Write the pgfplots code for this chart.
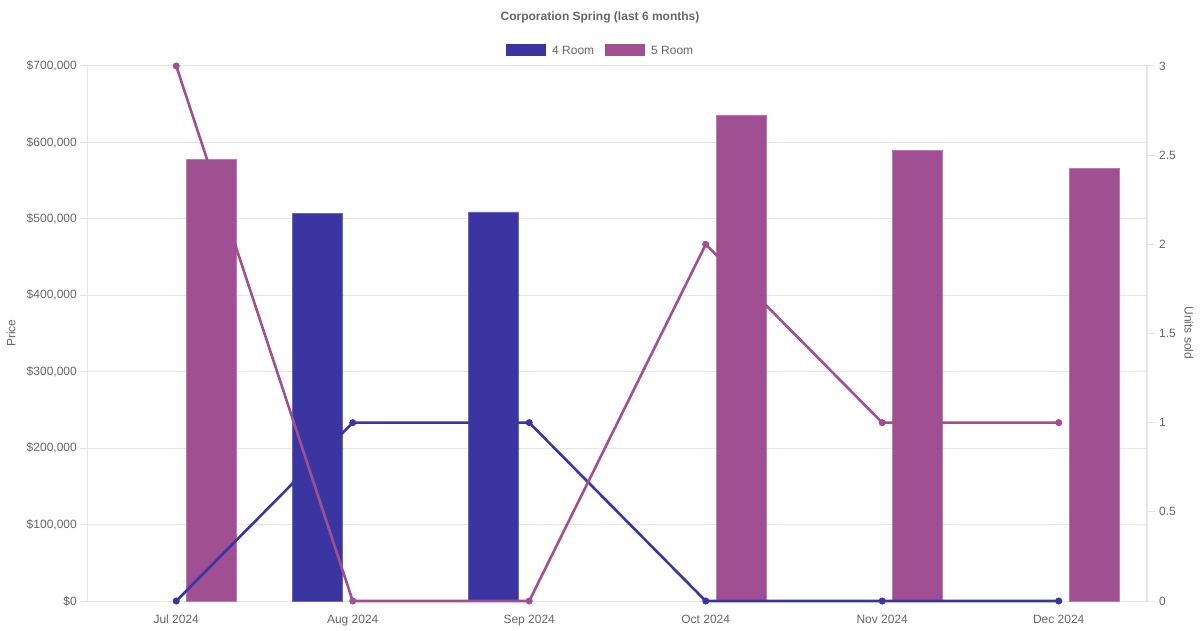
\documentclass[border=0pt]{standalone}
\usepackage{fontspec}
\setmainfont{Liberation Sans}
\usepackage{pgfplots}
\pgfplotsset{compat=1.18}
\definecolor{roomA}{HTML}{3A35A0}
\definecolor{roomB}{HTML}{A05092}
\definecolor{gridc}{HTML}{E6E6E6}
\definecolor{txt}{HTML}{666666}
\definecolor{axc}{HTML}{D0D0D0}
\begin{document}
\fontsize{12}{14}\selectfont
\begin{tikzpicture}
\path[use as bounding box] (-88pt,-29pt) rectangle (1112pt,601pt);
\begin{axis}[
  at={(0pt,0pt)}, anchor=south west,
  scale only axis, width=1059pt, height=535pt,
  xmin=-0.5, xmax=5.5, ymin=0, ymax=700000,
  scaled y ticks=false,
  xtick={0,1,2,3,4,5},
  xticklabels={Jul 2024,Aug 2024,Sep 2024,Oct 2024,Nov 2024,Dec 2024},
  ytick={0,100000,200000,300000,400000,500000,600000,700000},
  yticklabels={{\$0},{\$100,000},{\$200,000},{\$300,000},{\$400,000},{\$500,000},{\$600,000},{\$700,000}},
  ymajorgrids, grid style={draw=gridc, line width=1pt},
  axis line style={draw=gridc, line width=1pt},
  tick align=outside, major tick length=8pt,
  major x tick style={draw=none},
  ytick style={draw=gridc, line width=1pt},
  tick label style={text=txt, font=\fontsize{12}{14}\selectfont},
  yticklabel style={anchor=east, xshift=1pt},
  xticklabel style={anchor=north, yshift=-2pt},
  ytick pos=left, xtick pos=bottom,
]
\addplot[ybar, bar width=50pt, bar shift=-35.5pt, fill=roomA, draw=roomA!75!white, line width=0.8pt]
  coordinates {(1,507000) (2,509000)};
\addplot[ybar, bar width=50pt, bar shift=35.5pt, fill=roomB, draw=roomB!75!white, line width=0.8pt]
  coordinates {(0,578000) (3,636000) (4,589000) (5,566000)};
\end{axis}
\begin{axis}[
  at={(0pt,0pt)}, anchor=south west,
  scale only axis, width=1059pt, height=535pt,
  xmin=-0.5, xmax=5.5, ymin=0, ymax=3,
  axis x line=none,
  axis y line*=right,
  axis line style={draw=gridc, line width=1pt, -},
  ytick={0,0.5,1,1.5,2,2.5,3},
  yticklabels={0,0.5,1,1.5,2,2.5,3},
  tick align=outside, major tick length=8pt,
  ytick style={draw=gridc, line width=1pt},
  tick label style={text=txt, font=\fontsize{12}{14}\selectfont},
  yticklabel style={anchor=west, xshift=0pt},
  clip=false,
]
\addplot[roomA, line width=2.6pt, mark=*, mark size=3pt, mark options={solid, fill=roomA, draw=roomA, line width=1pt}]
  coordinates {(0,0) (1,1) (2,1) (3,0) (4,0) (5,0)};
\addplot[roomB, line width=2.6pt, mark=*, mark size=3pt, mark options={solid, fill=roomB, draw=roomB, line width=1pt}]
  coordinates {(0,3) (1,0) (2,0) (3,2) (4,1) (5,1)};
\end{axis}
% title, legend, axis labels
\node[text=txt, font=\bfseries\fontsize{12}{14}\selectfont] at (512pt,584pt) {Corporation Spring (last 6 months)};
\fill[roomA] (418pt,545pt) rectangle (458pt,557pt);
\node[anchor=west, inner sep=0pt, text=txt] at (464pt,551pt) {4 Room};
\fill[roomB] (517pt,545pt) rectangle (557pt,557pt);
\node[anchor=west, inner sep=0pt, text=txt] at (563pt,551pt) {5 Room};
\node[rotate=90, text=txt] at (-77pt,268pt) {Price};
\node[rotate=-90, text=txt] at (1101pt,268pt) {Units sold};
\end{tikzpicture}
\end{document}
